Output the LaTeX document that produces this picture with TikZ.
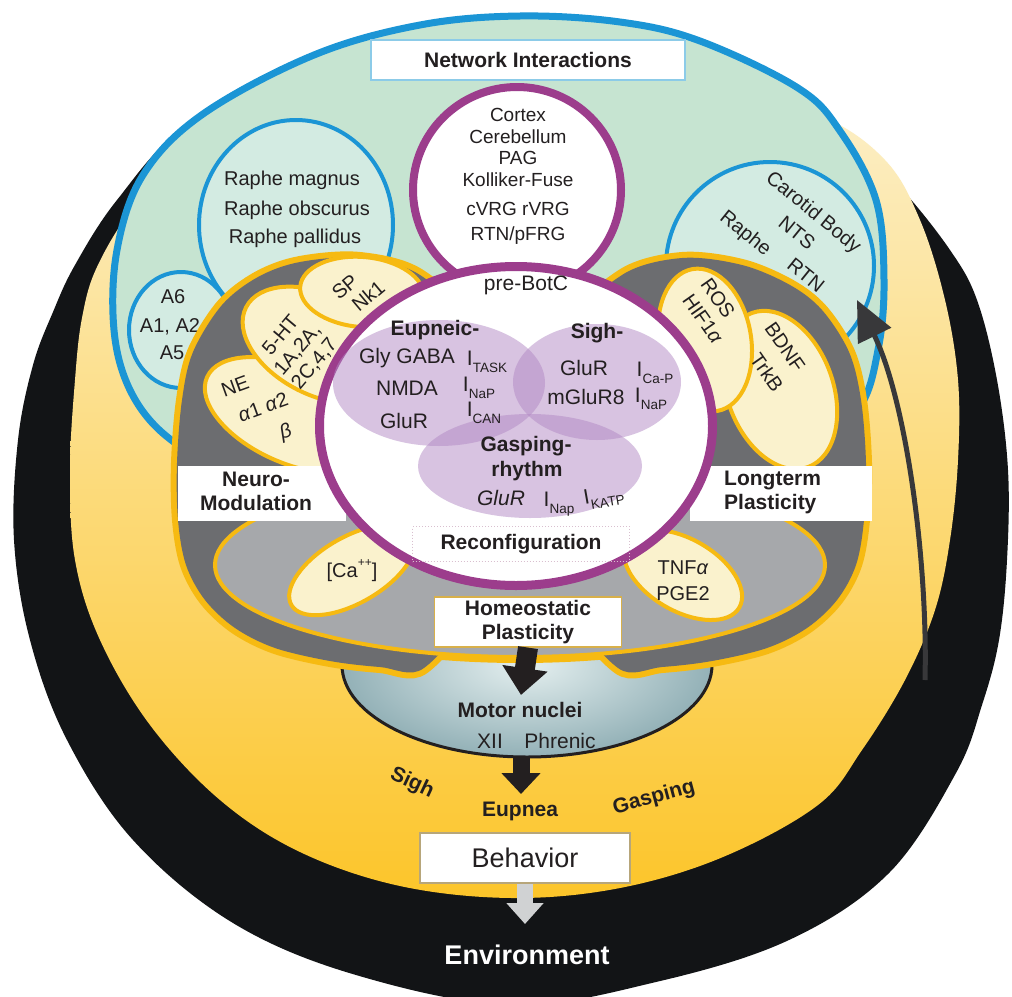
\documentclass[tikz,border=0pt]{standalone}
\usepackage{fontspec}
\setmainfont{Liberation Sans}
\usetikzlibrary{arrows.meta}
\definecolor{ink}{HTML}{231F20}
\definecolor{ringblack}{HTML}{121416}
\definecolor{creamtop}{HTML}{FCF1CF}
\definecolor{yelmid}{HTML}{FBE29C}
\definecolor{yelbot}{HTML}{FCC52A}
\definecolor{netblue}{HTML}{1B95D5}
\definecolor{netgreen}{HTML}{C6E4D1}
\definecolor{ovalfill}{HTML}{D3EBE2}
\definecolor{botpurple}{HTML}{9C3D8C}
\definecolor{lilac}{RGB}{178,136,196}
\definecolor{goldline}{HTML}{F6BA12}
\definecolor{lobegray}{HTML}{6C6D70}
\definecolor{innergray}{HTML}{A6A8AB}
\definecolor{petalfill}{HTML}{FAF2CD}
\definecolor{arrowgray}{HTML}{D0D2D3}
\definecolor{curvegray}{HTML}{38383A}
\definecolor{motorin}{HTML}{E4EFEF}
\definecolor{motorout}{HTML}{93B1B7}
\definecolor{netbox}{HTML}{8CCBE8}
\definecolor{homebox}{HTML}{D8B04A}
\definecolor{behbox}{HTML}{B7A67A}
\definecolor{recbox}{HTML}{D9BFCF}
\newcommand{\lsub}[1]{\raisebox{-0.32em}{\fontsize{13.5}{14}\selectfont #1}}
\newcommand{\usup}[1]{\raisebox{0.55em}{\fontsize{12}{12}\selectfont #1}}
\tikzset{
  tnineteen/.style={font=\fontsize{19}{22}\selectfont, text=ink, inner sep=0pt},
  ttwenty/.style={font=\fontsize{20}{23}\selectfont, text=ink, inner sep=0pt},
  ttwentyone/.style={font=\fontsize{21}{24}\selectfont, text=ink, inner sep=0pt},
  btwentyone/.style={font=\bfseries\fontsize{21}{24}\selectfont, text=ink, inner sep=0pt},
  petalst/.style={fill=petalfill, draw=goldline, line width=4pt},
  ovalst/.style={fill=ovalfill, draw=netblue, line width=4pt},
  lilacst/.style={fill=lilac, fill opacity=0.5},
  whitebox/.style={fill=white, inner sep=0pt},
}
\begin{document}
\begin{tikzpicture}[x=1pt,y=-1pt]
\useasboundingbox (0,0) rectangle (1012,996);
\fill[white] (0,0) rectangle (1012,996);

% black environment ring
\fill[ringblack] plot[smooth cycle, tension=0.6] coordinates {(512,45) (700,62) (785,95) (840,127) (900,187) (950,250) (977,300) (997,380) (1008,470) (1007,560) (999,640) (982,705) (956,773) (889,873) (789,940) (656,982) (512,1005) (356,975) (233,923) (133,840) (67,740) (30,640) (14,540) (18,440) (33,365) (53,312) (75,265) (117,200) (187,125) (300,78)};

% yellow behaviour ring
\shade[top color=creamtop, middle color=yelmid, bottom color=yelbot] plot[smooth cycle, tension=0.6] coordinates {(512,60) (700,75) (820,115) (885,160) (920,220) (945,300) (958,380) (958,460) (950,540) (935,610) (905,680) (862,750) (818,805) (723,857) (620,888) (512,898) (400,886) (300,852) (220,800) (150,725) (100,640) (75,560) (70,470) (75,380) (82,318) (97,267) (135,205) (200,135) (320,80)};

% network interactions region
\filldraw[fill=netgreen, draw=netblue, line width=7pt] plot[smooth cycle, tension=0.6] coordinates {(114,330) (117,250) (143,175) (203,114) (314,55) (420,25) (520,16) (620,22) (700,41) (798,88) (840,131) (876,200) (884,280) (878,350) (858,410) (800,465) (650,505) (500,515) (330,495) (220,465) (165,435) (130,390)};

\filldraw[ovalst] (296,225) ellipse [x radius=97, y radius=105];
\filldraw[ovalst] (181,330) ellipse [x radius=52, y radius=58];
\filldraw[ovalst] (770,266) ellipse [x radius=104, y radius=104];

\node[ttwenty] (rmag) at (292,180) {Raphe magnus};
\node[ttwenty] (robs) at (297,210) {Raphe obscurus};
\node[ttwenty] (rpal) at (295,238) {Raphe pallidus};
\node[ttwenty] (asix) at (173,297) {A6};
\node[ttwenty] (aone) at (170,327) {A1, A2};
\node[ttwenty] (afive) at (172,353) {A5};
\node[ttwenty, rotate=-39] (carot) at (813,213) {Carotid Body};
\node[ttwenty, rotate=-39] (nts) at (797,233) {NTS};
\node[ttwenty, rotate=-39] (raphr) at (745,234) {Raphe};
\node[ttwenty, rotate=-39] (rtnr) at (806,275) {RTN};

% motor nuclei
\shade[inner color=motorin, outer color=motorout] (527,665) ellipse [x radius=185, y radius=92];
\draw[ink, line width=3pt] (527,665) ellipse [x radius=185, y radius=92];

% plasticity lobes: union outline
\draw[goldline, line width=12pt] plot[smooth cycle, tension=0.55] coordinates {(424,668) (380,667) (330,661) (275,648) (235,628) (205,600) (186,565) (178,520) (177,463) (182,400) (193,352) (222,305) (258,277) (300,262) (360,258) (420,275) (470,330) (485,450) (470,600)};
\draw[goldline, line width=12pt] plot[smooth cycle, tension=0.55] coordinates {(618,668) (662,667) (712,661) (767,648) (807,628) (837,600) (856,565) (864,520) (866,463) (861,400) (849,352) (822,310) (790,285) (742,265) (682,258) (622,275) (572,330) (557,450) (572,600)};
\draw[goldline, line width=12pt] (520,565) ellipse [x radius=305, y radius=92];
\fill[lobegray] plot[smooth cycle, tension=0.55] coordinates {(424,668) (380,667) (330,661) (275,648) (235,628) (205,600) (186,565) (178,520) (177,463) (182,400) (193,352) (222,305) (258,277) (300,262) (360,258) (420,275) (470,330) (485,450) (470,600)};
\fill[lobegray] plot[smooth cycle, tension=0.55] coordinates {(618,668) (662,667) (712,661) (767,648) (807,628) (837,600) (856,565) (864,520) (866,463) (861,400) (849,352) (822,310) (790,285) (742,265) (682,258) (622,275) (572,330) (557,450) (572,600)};
\filldraw[fill=innergray, draw=goldline, line width=4pt] (520,565) ellipse [x radius=305, y radius=92];

% petals
\filldraw[petalst, rotate around={-24:(292,415)}] (292,415) ellipse [x radius=93, y radius=48];
\filldraw[petalst, rotate around={-27:(320,345)}] (320,345) ellipse [x radius=83, y radius=50];
\filldraw[petalst, rotate around={-5:(362,292)}] (362,292) ellipse [x radius=62, y radius=35];
\filldraw[petalst, rotate around={20:(780,390)}] (780,390) ellipse [x radius=53, y radius=82];
\filldraw[petalst, rotate around={10:(705,340)}] (705,340) ellipse [x radius=46, y radius=72];
\filldraw[petalst, rotate around={30:(352,570)}] (352,570) ellipse [x radius=70, y radius=33];
\filldraw[petalst, rotate around={-30:(683,575)}] (683,575) ellipse [x radius=65, y radius=36];

\node[ttwenty, rotate=20] (ne) at (235,386) {NE};
\node[ttwenty, rotate=20] (alph) at (263,407) {\textit{α}1 \textit{α}2};
\node[ttwenty, rotate=20] (beta) at (286,433) {\textit{β}};
\node[ttwenty, rotate=50, align=center, font=\fontsize{20}{22}\selectfont] (fiveht) at (298,350) {5-HT\\1A,2A,\\2C,4,7};
\node[ttwenty, rotate=40] (sp) at (345,287) {SP};
\node[ttwenty, rotate=40] (nk) at (368,296) {Nk1};
\node[ttwenty, rotate=-55] (ros) at (718,298) {ROS};
\node[ttwenty, rotate=-55] (hif) at (703,319) {HIF1\textit{α}};
\node[ttwenty, rotate=-55] (bdnf) at (785,347) {BDNF};
\node[ttwenty, rotate=-55] (trkb) at (767,372) {TrkB};
\node[ttwenty] (ca) at (352,571) {[Ca\usup{++}]};
\node[ttwenty] (tnf) at (683,568) {TNF\textit{α}};
\node[ttwenty] (pge) at (683,594) {PGE2};

% label bars
\node[whitebox, minimum width=168pt, minimum height=55pt] (nmbox) at (262,493.5) {};
\node[btwentyone, align=center] (nmtext) at (256,491) {Neuro-\\Modulation};
\node[whitebox, minimum width=182pt, minimum height=55pt] (ltbox) at (781,493.5) {};
\node[btwentyone, align=left, anchor=west] (lttext) at (724,492) {Longterm\\Plasticity};

% cortex circle
\filldraw[fill=white, draw=botpurple, line width=8pt] (517,190) ellipse [x radius=104, y radius=103];
\node[tnineteen] (cortex) at (518,115) {Cortex};
\node[tnineteen] (cereb) at (518,137) {Cerebellum};
\node[tnineteen] (pag) at (518,158) {PAG};
\node[tnineteen] (kf) at (518,180) {Kolliker-Fuse};
\node[tnineteen] (vrg) at (518,209) {cVRG rVRG};
\node[tnineteen] (rtn) at (518,236) {RTN/pFRG};

% pre-BotC
\filldraw[fill=white, draw=botpurple, line width=9pt] (516,426) ellipse [x radius=196.5, y radius=159.5];
\fill[lilacst] (439,383) ellipse [x radius=106, y radius=63];
\fill[lilacst] (597,382) ellipse [x radius=84, y radius=58];
\fill[lilacst] (530,466) ellipse [x radius=112, y radius=52];

\node[ttwentyone] (prebotc) at (526,285) {pre-BotC};
\node[btwentyone] (eupn) at (435,330) {Eupneic-};
\node[ttwentyone] (glyg) at (407,358) {Gly GABA};
\node[ttwentyone] (itask) at (487,362) {I\lsub{TASK}};
\node[ttwentyone] (nmda) at (407,388) {NMDA};
\node[ttwentyone] (inap1) at (479,388) {I\lsub{NaP}};
\node[ttwentyone] (glur1) at (404,421) {GluR};
\node[ttwentyone] (ican) at (484,413) {I\lsub{CAN}};
\node[btwentyone] (sighh) at (597,333) {Sigh-};
\node[ttwentyone] (glur2) at (584,368) {GluR};
\node[ttwentyone] (icap) at (655,373) {I\lsub{Ca-P}};
\node[ttwentyone] (mglur) at (586,397) {mGluR8};
\node[ttwentyone] (inap2) at (651,399) {I\lsub{NaP}};
\node[btwentyone] (gasp) at (526,446) {Gasping-};
\node[btwentyone] (rhythm) at (527,471) {rhythm};
\node[ttwentyone] (glur3) at (501,498) {\textit{GluR}};
\node[ttwentyone] (inap3) at (559,504) {I\lsub{Nap}};
\node[ttwentyone, rotate=10] (ikatp) at (604,497) {I\lsub{KATP}};

\node[draw=recbox, dotted, line width=1pt, minimum width=217pt, minimum height=35pt, btwentyone] (recon) at (521,544) {Reconfiguration};

% homeostatic plasticity
\node[draw=homebox, fill=white, line width=1.2pt, minimum width=187pt, minimum height=50pt, align=center, btwentyone] (homeo) at (528,622) {Homeostatic\\Plasticity};

% network interactions label
\node[draw=netbox, fill=white, line width=1.2pt, minimum width=314pt, minimum height=40pt, btwentyone] (netint) at (528,60) {Network Interactions};

% motor nuclei texts and arrows
\coordinate (mtop) at (521,695);
\coordinate (mbot) at (521,758);
\coordinate (eupin) at (521,794);
\coordinate (envin) at (525,924);
\draw[ink, line width=20pt, -{Triangle[length=27pt, width=44pt]}] (homeo.south) -- (mtop);
\node[btwentyone] (motor) at (520,710) {Motor nuclei};
\node[ttwentyone] (xii) at (490,741) {XII};
\node[ttwentyone] (phren) at (560,741) {Phrenic};
\draw[ink, line width=17pt, -{Triangle[length=21pt, width=38pt]}] (mbot) -- (eupin);

\node[btwentyone, rotate=-25] (sigh) at (412,783) {Sigh};
\node[btwentyone] (eupnea) at (520,811) {Eupnea};
\node[btwentyone, rotate=15] (gasping) at (654,798) {Gasping};

\node[draw=behbox, fill=white, line width=1.5pt, minimum width=210pt, minimum height=50pt, font=\fontsize{27}{30}\selectfont, text=ink] (behav) at (525,858) {Behavior};
\draw[arrowgray, line width=16pt, -{Triangle[length=21pt, width=36pt]}] (behav.south) -- (envin);
\node[font=\bfseries\fontsize{27}{30}\selectfont, text=white, inner sep=0pt] (envir) at (527,955) {Environment};

% feedback arrow
\coordinate (cbase) at (925,680);
\coordinate (ctip) at (857,300);
\draw[curvegray, line width=5pt, -{Triangle[length=40pt, width=36pt]}] (cbase) .. controls (928,560) and (906,400) .. (ctip);
\end{tikzpicture}
\end{document}
